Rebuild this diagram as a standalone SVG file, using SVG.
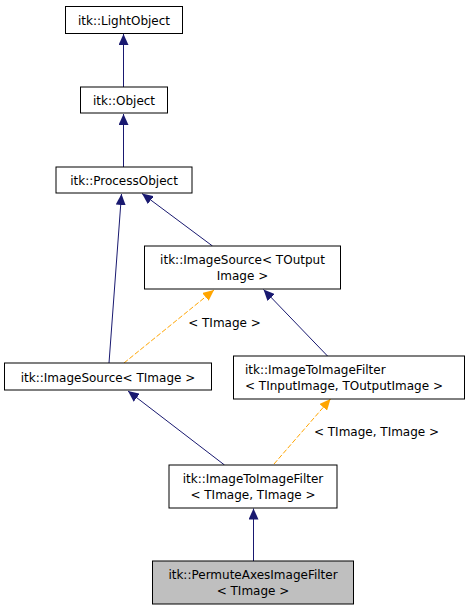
<svg xmlns="http://www.w3.org/2000/svg" width="469" height="611" viewBox="0 0 469 611">
<style>
.box{fill:#fff;stroke:#000;stroke-width:1}
.leaf{fill:#bfbfbf;stroke:#000;stroke-width:1}
text{font-family:"DejaVu Sans","Liberation Sans",sans-serif;font-size:12px;fill:#000}
.c{text-anchor:middle}
.e{fill:none;stroke:#191970;stroke-width:1}
.t{fill:none;stroke:#ffa500;stroke-width:1;stroke-dasharray:5,2}
</style>
<defs>
<marker id="ab" markerWidth="11" markerHeight="10" refX="11" refY="5" orient="auto" markerUnits="userSpaceOnUse" viewBox="0 0 11 10"><path d="M0,0 L11,5 L0,10 z" fill="#191970"/></marker>
<marker id="ao" markerWidth="11" markerHeight="10" refX="11" refY="5" orient="auto" markerUnits="userSpaceOnUse" viewBox="0 0 11 10"><path d="M0,0 L11,5 L0,10 z" fill="#ffa500"/></marker>
</defs>
<rect width="469" height="611" fill="#fff"/>
<g id="connectors">
<path class="e" d="M123.5,87 L123.5,34" marker-end="url(#ab)"/>
<path class="e" d="M123.5,167 L123.5,114" marker-end="url(#ab)"/>
<path class="e" d="M109,363 L121.5,194" marker-end="url(#ab)"/>
<path class="e" d="M212.5,246 L142,193.5" marker-end="url(#ab)"/>
<path class="e" d="M327.5,356 L263.5,289.5" marker-end="url(#ab)"/>
<path class="t" d="M124,363 L214,290" marker-end="url(#ao)"/>
<text class="c" x="224.5" y="327">&lt; TImage &gt;</text>
<path class="e" d="M224.5,465 L128,391" marker-end="url(#ab)"/>
<path class="t" d="M274,464 L330.5,399" marker-end="url(#ao)"/>
<text class="c" x="376.5" y="435.5">&lt; TImage, TImage &gt;</text>
<path class="e" d="M253.5,561 L253.5,508.5" marker-end="url(#ab)"/>
</g>
<g id="lightobject"><rect class="box" x="65.5" y="6.5" width="117" height="27"/><text class="c" x="124" y="25">itk::LightObject</text></g>
<g id="object"><rect class="box" x="80.5" y="87" width="87" height="26"/><text class="c" x="124" y="105">itk::Object</text></g>
<g id="processobject"><rect class="box" x="56" y="167" width="136" height="26"/><text class="c" x="124" y="185">itk::ProcessObject</text></g>
<g id="imagesource_toutput"><rect class="box" x="144.5" y="246" width="196" height="43"/><text class="c" x="242.5" y="263.5">itk::ImageSource&lt; TOutput</text><text class="c" x="242.5" y="279.5">Image &gt;</text></g>
<g id="imagesource_timage"><rect class="box" x="4.5" y="363" width="207" height="27"/><text class="c" x="108" y="381.5">itk::ImageSource&lt; TImage &gt;</text></g>
<g id="itif_tinput"><rect class="box" x="233.5" y="356" width="231" height="43"/><text x="245" y="373.5">itk::ImageToImageFilter</text><text x="245" y="389.5">&lt; TInputImage, TOutputImage &gt;</text></g>
<g id="itif_timage"><rect class="box" x="169" y="465" width="168" height="43"/><text class="c" x="253" y="482.5">itk::ImageToImageFilter</text><text class="c" x="253" y="498.5">&lt; TImage, TImage &gt;</text></g>
<g id="permuteaxes"><rect class="leaf" x="152.5" y="561" width="201" height="43"/><text class="c" x="253" y="578.5">itk::PermuteAxesImageFilter</text><text class="c" x="253" y="594.5">&lt; TImage &gt;</text></g>
</svg>
